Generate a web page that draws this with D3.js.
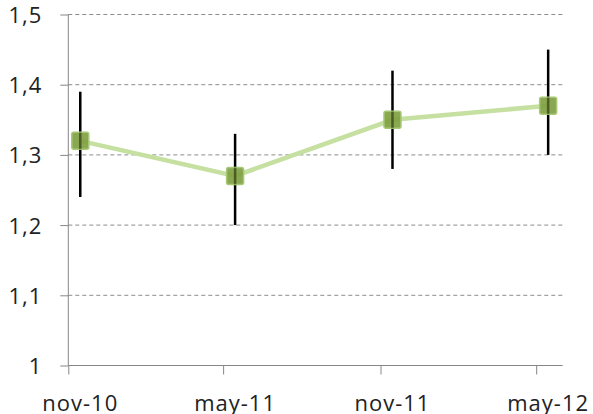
<!DOCTYPE html>
<html>
<head>
<meta charset="utf-8">
<script src="https://cdn.jsdelivr.net/npm/d3@7"></script>
<style>
  body { margin: 0; background: #fff; }
  text { font-family: "Open Sans", sans-serif; }
</style>
</head>
<body>
<script>
// data
var dates = ["2010-11-15", "2011-05-15", "2011-11-15", "2012-05-15"];
var labels = ["nov-10", "may-11", "nov-11", "may-12"];
var values = [1.32, 1.27, 1.35, 1.37];
var errLow = [1.24, 1.20, 1.28, 1.30];
var errHigh = [1.39, 1.33, 1.42, 1.45];
var monthTicks = ["2010-11-01", "2011-05-01", "2011-11-01", "2012-05-01"];
var yTicks = [1, 1.1, 1.2, 1.3, 1.4, 1.5];

var parse = d3.timeParse("%Y-%m-%d");
var width = 593, height = 414;
var plotLeft = 68.3, plotRight = 562.7, plotTop = 14.5, plotBottom = 365.5;

var svg = d3.select("body").append("svg")
  .attr("width", width)
  .attr("height", height);

var x = d3.scaleTime()
  .domain([parse("2010-11-01"), parse("2012-06-01")])
  .range([plotLeft, plotRight]);
var y = d3.scaleLinear()
  .domain([1, 1.5])
  .range([plotBottom, plotTop]);

// dashed grid
svg.append("g")
  .selectAll("line")
  .data(yTicks.slice(1))
  .enter().append("line")
  .attr("x1", plotLeft).attr("x2", plotRight)
  .attr("y1", function(d) { return y(d); })
  .attr("y2", function(d) { return y(d); })
  .attr("stroke", "#8c8c8c")
  .attr("stroke-width", 1)
  .attr("stroke-dasharray", "4,3");

// y axis
var yAxis = d3.axisLeft(y)
  .tickValues(yTicks)
  .tickSize(8)
  .tickPadding(18)
  .tickFormat(function(d) { return d === 1 ? "1" : d3.format(".1f")(d).replace(".", ","); });
var gy = svg.append("g")
  .attr("transform", "translate(" + plotLeft + ",0)")
  .call(yAxis);
gy.select(".domain").attr("stroke", "#868686").attr("d", "M0," + plotTop + "V" + plotBottom);
gy.selectAll(".tick line").attr("stroke", "#868686");
gy.selectAll(".tick text")
  .attr("fill", "#222")
  .attr("font-size", 22)
  .attr("letter-spacing", 1)
  .attr("dy", "0.36em");

// x axis: ticks at month starts, labels under the points
var xAxis = d3.axisBottom(x)
  .tickValues(monthTicks.map(parse))
  .tickSize(9)
  .tickFormat("");
var gx = svg.append("g")
  .attr("transform", "translate(0," + plotBottom + ")")
  .call(xAxis);
gx.select(".domain").attr("stroke", "#868686").attr("d", "M" + plotLeft + ",0H" + plotRight);
gx.selectAll(".tick line").attr("stroke", "#868686");

svg.append("g")
  .selectAll("text")
  .data(labels)
  .enter().append("text")
  .attr("x", function(d, i) { return x(parse(dates[i])); })
  .attr("y", 411)
  .attr("text-anchor", "middle")
  .attr("fill", "#222")
  .attr("font-size", 22)
  .attr("letter-spacing", 1)
  .text(function(d) { return d; });

// series line
var line = d3.line()
  .x(function(d, i) { return x(parse(dates[i])); })
  .y(function(d) { return y(d); });
svg.append("path")
  .datum(values)
  .attr("d", line)
  .attr("fill", "none")
  .attr("stroke", "#c5e0a0")
  .attr("stroke-width", 4.5);

// error bars
svg.append("g")
  .selectAll("line")
  .data(values)
  .enter().append("line")
  .attr("x1", function(d, i) { return x(parse(dates[i])); })
  .attr("x2", function(d, i) { return x(parse(dates[i])); })
  .attr("y1", function(d, i) { return y(errHigh[i]); })
  .attr("y2", function(d, i) { return y(errLow[i]); })
  .attr("stroke", "#000")
  .attr("stroke-width", 2.5);

// square markers
var ms = 17;
svg.append("g")
  .selectAll("rect")
  .data(values)
  .enter().append("rect")
  .attr("x", function(d, i) { return x(parse(dates[i])) - ms / 2; })
  .attr("y", function(d) { return y(d) - ms / 2; })
  .attr("width", ms)
  .attr("height", ms)
  .attr("rx", 2)
  .attr("fill", "#7d9f3e")
  .attr("fill-opacity", 0.9)
  .attr("stroke", "#a8c878")
  .attr("stroke-width", 1.5);

// error bar shows faintly through the marker
svg.append("g")
  .selectAll("line")
  .data(values)
  .enter().append("line")
  .attr("x1", function(d, i) { return x(parse(dates[i])); })
  .attr("x2", function(d, i) { return x(parse(dates[i])); })
  .attr("y1", function(d) { return y(d) - ms / 2; })
  .attr("y2", function(d) { return y(d) + ms / 2; })
  .attr("stroke", "#000")
  .attr("stroke-opacity", 0.35)
  .attr("stroke-width", 2.5);
</script>
</body>
</html>
